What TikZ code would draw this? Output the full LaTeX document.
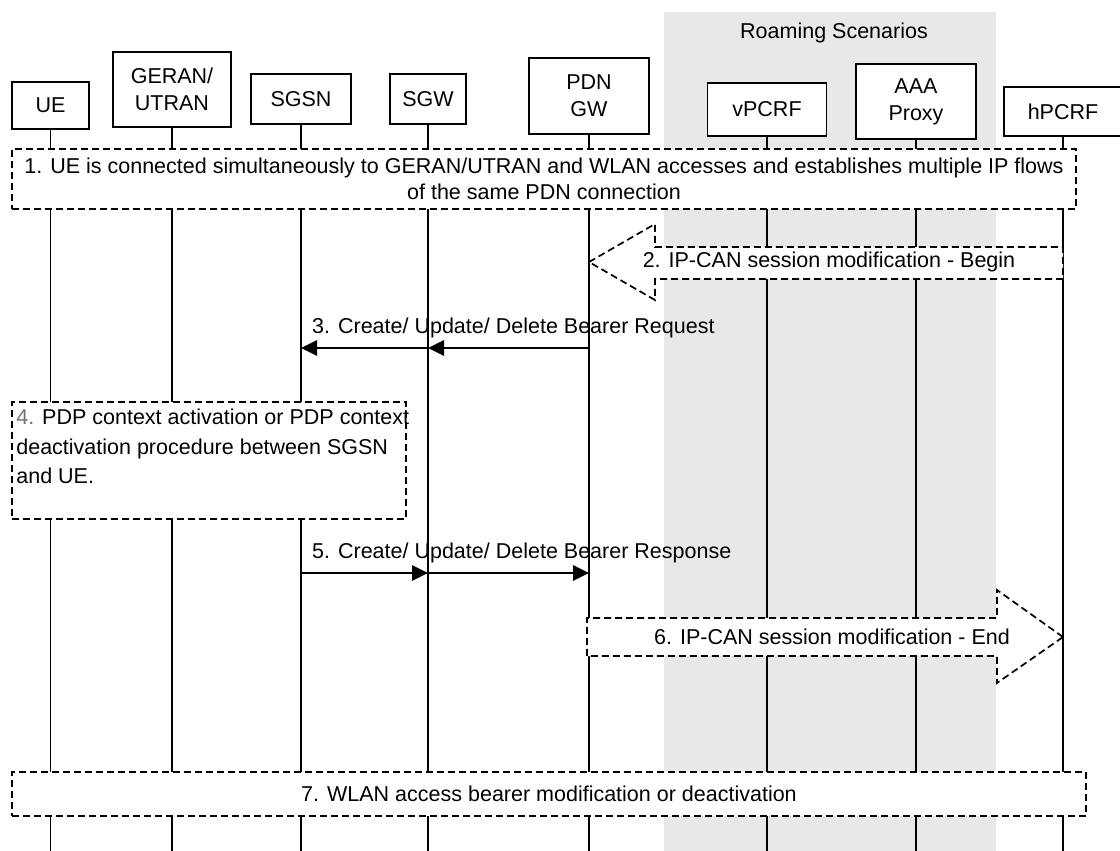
\documentclass[tikz,border=0pt]{standalone}
\usepackage{fontspec}
\setmainfont{Liberation Sans}
\usetikzlibrary{arrows.meta}

\begin{document}
\begin{tikzpicture}[x=1pt, y=-1pt,
	entity/.style={draw, line width=1.9pt, fill=white, inner sep=0pt, align=center, font=\fontsize{21.5}{27}\selectfont},
	lifeline/.style={line width=1.6pt},
	notebox/.style={draw, dash pattern=on 7pt off 4pt, line width=1.7pt, fill=white, inner sep=0pt, align=center, font=\fontsize{21.5}{26.5}\selectfont},
	bigarrow/.style={draw, dash pattern=on 7pt off 4pt, line width=1.7pt, fill=white},
	msg/.style={line width=2.8pt, -{Triangle[length=16pt,width=15pt]}},
	txt/.style={inner sep=0pt, font=\fontsize{21.5}{26.5}\selectfont}]

	\useasboundingbox (0,0) rectangle (1120,851);
	\fill [gray!18] (664,12) rectangle (996,851);
	\node [txt] (roaming) at (834,33) {Roaming Scenarios};

	\node [entity, minimum width=77pt, minimum height=47pt] (ue) at (50.5,105.5) {UE};
	\node [entity, minimum width=118pt, minimum height=75pt] (geran) at (172,89.5) {GERAN/\\UTRAN};
	\node [entity, minimum width=100pt, minimum height=50pt] (sgsn) at (301,99) {SGSN};
	\node [entity, minimum width=76pt, minimum height=50pt] (sgw) at (428,99) {SGW};
	\node [entity, minimum width=120pt, minimum height=76pt] (pdngw) at (589,96) {PDN\\GW};
	\node [entity, minimum width=119pt, minimum height=53pt] (vpcrf) at (767,109.5) {vPCRF};
	\node [entity, minimum width=120pt, minimum height=75pt] (aaa) at (916,101.5) {AAA\\Proxy};
	\node [entity, minimum width=118pt, minimum height=49pt] (hpcrf) at (1063,111.5) {hPCRF};

	\coordinate (bottom) at (0,851);
	\foreach \n in {ue,geran,sgsn,sgw,pdngw,vpcrf,aaa,hpcrf}
		\draw [lifeline] (\n.south) -- (\n.south |- bottom);

	\node [notebox, minimum width=1064pt, minimum height=60pt] (setup) at (544,179)
		{1. UE is connected simultaneously to GERAN/UTRAN and WLAN accesses and establishes multiple IP flows\\of the same PDN connection};

	\coordinate (begy) at (0,262);
	\draw [bigarrow] (pdngw |- begy) -- ++(66,-38) -- ++(0,23) -- ++(408,0) -- ++(0,32) -- ++(-408,0) -- ++(0,21) -- cycle;
	\node [txt] (beglabel) at (829,262) {2. IP-CAN session modification - Begin};

	\coordinate (reqy) at (0,348);
	\draw [msg] (pdngw |- reqy) -- (sgw |- reqy);
	\draw [msg] (sgw |- reqy) -- (sgsn |- reqy);
	\node [txt, anchor=west] (reqlabel) at (312,328) {3. Create/ Update/ Delete Bearer Request};

	\node [notebox, minimum width=394pt, minimum height=117pt] (pdpbox) at (209,460.5) {};
	\node [txt, anchor=north west, align=left, font=\fontsize{21.5}{29.5}\selectfont] (pdptext) at ([shift={(5,8)}]pdpbox.north west)
		{\textcolor{black!55}{4.} PDP context activation or PDP context\\deactivation procedure between SGSN\\and UE.};

	\coordinate (respy) at (0,573);
	\draw [msg] (sgsn |- respy) -- (sgw |- respy);
	\draw [msg] (sgw |- respy) -- (pdngw |- respy);
	\node [txt, anchor=west] (resplabel) at (312,553) {5. Create/ Update/ Delete Bearer Response};

	\coordinate (endy) at (0,637);
	\draw [bigarrow] (hpcrf |- endy) -- ++(-66,-47) -- ++(0,28) -- ++(-410,0) -- ++(0,38) -- ++(410,0) -- ++(0,27) -- cycle;
	\node [txt] (endlabel) at (832,637) {6. IP-CAN session modification - End};

	\node [notebox, minimum width=1074pt, minimum height=44pt] (wlanbox) at (549,794)
		{7. WLAN access bearer modification or deactivation};
\end{tikzpicture}
\end{document}
